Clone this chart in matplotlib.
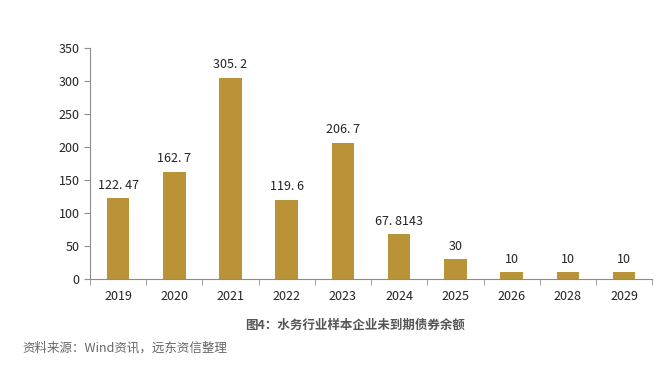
import matplotlib.pyplot as plt
import numpy as np

plt.rcParams['font.family'] = ['Noto Sans CJK SC', 'DejaVu Sans']

# Data
years = ["2019", "2020", "2021", "2022", "2023", "2024", "2025", "2026", "2028", "2029"]
values = [122.47, 162.7, 305.2, 119.6, 206.7, 67.8143, 30, 10, 10, 10]
yticks = [0, 50, 100, 150, 200, 250, 300, 350]

bar_color = "#BA9338"
axis_color = "#8C8C8C"

fig = plt.figure(figsize=(6.71, 3.69), dpi=100)
ax = fig.add_axes([0.134, 0.244, 0.838, 0.626])

x = np.arange(len(years))
ax.bar(x, values, width=0.4, color=bar_color, zorder=2)

# value labels above each bar
for xi, v in zip(x, values):
    label = f"{v:g}".replace(".", ". ")
    ax.text(xi, v + 10, label, ha="center", va="bottom", fontsize=9, color="#222222")

ax.set_xlim(-0.5, len(years) - 0.5)
ax.set_ylim(0, 350)
ax.set_yticks(yticks)
ax.set_xticks(x)
ax.set_xticklabels(years)
ax.set_xticks(np.arange(len(years) + 1) - 0.5, minor=True)

ax.tick_params(axis="x", which="major", length=0, pad=8, labelsize=9, labelcolor="#222222")
ax.tick_params(axis="x", which="minor", length=4, color=axis_color, direction="out")
ax.tick_params(axis="y", length=4, color=axis_color, direction="out", labelsize=9, labelcolor="#222222")

for side in ["top", "right"]:
    ax.spines[side].set_visible(False)
for side in ["left", "bottom"]:
    ax.spines[side].set_color(axis_color)
    ax.spines[side].set_linewidth(0.8)

# caption and source
fig.text(0.529, 0.118, "图4：水务行业样本企业未到期债券余额", ha="center", va="center",
         fontsize=9, color="#555555", fontweight="bold")
fig.text(0.033, 0.057, "资料来源：Wind资讯，远东资信整理", ha="left", va="center",
         fontsize=9, color="#666666")

fig.savefig("out.png", dpi=100)
